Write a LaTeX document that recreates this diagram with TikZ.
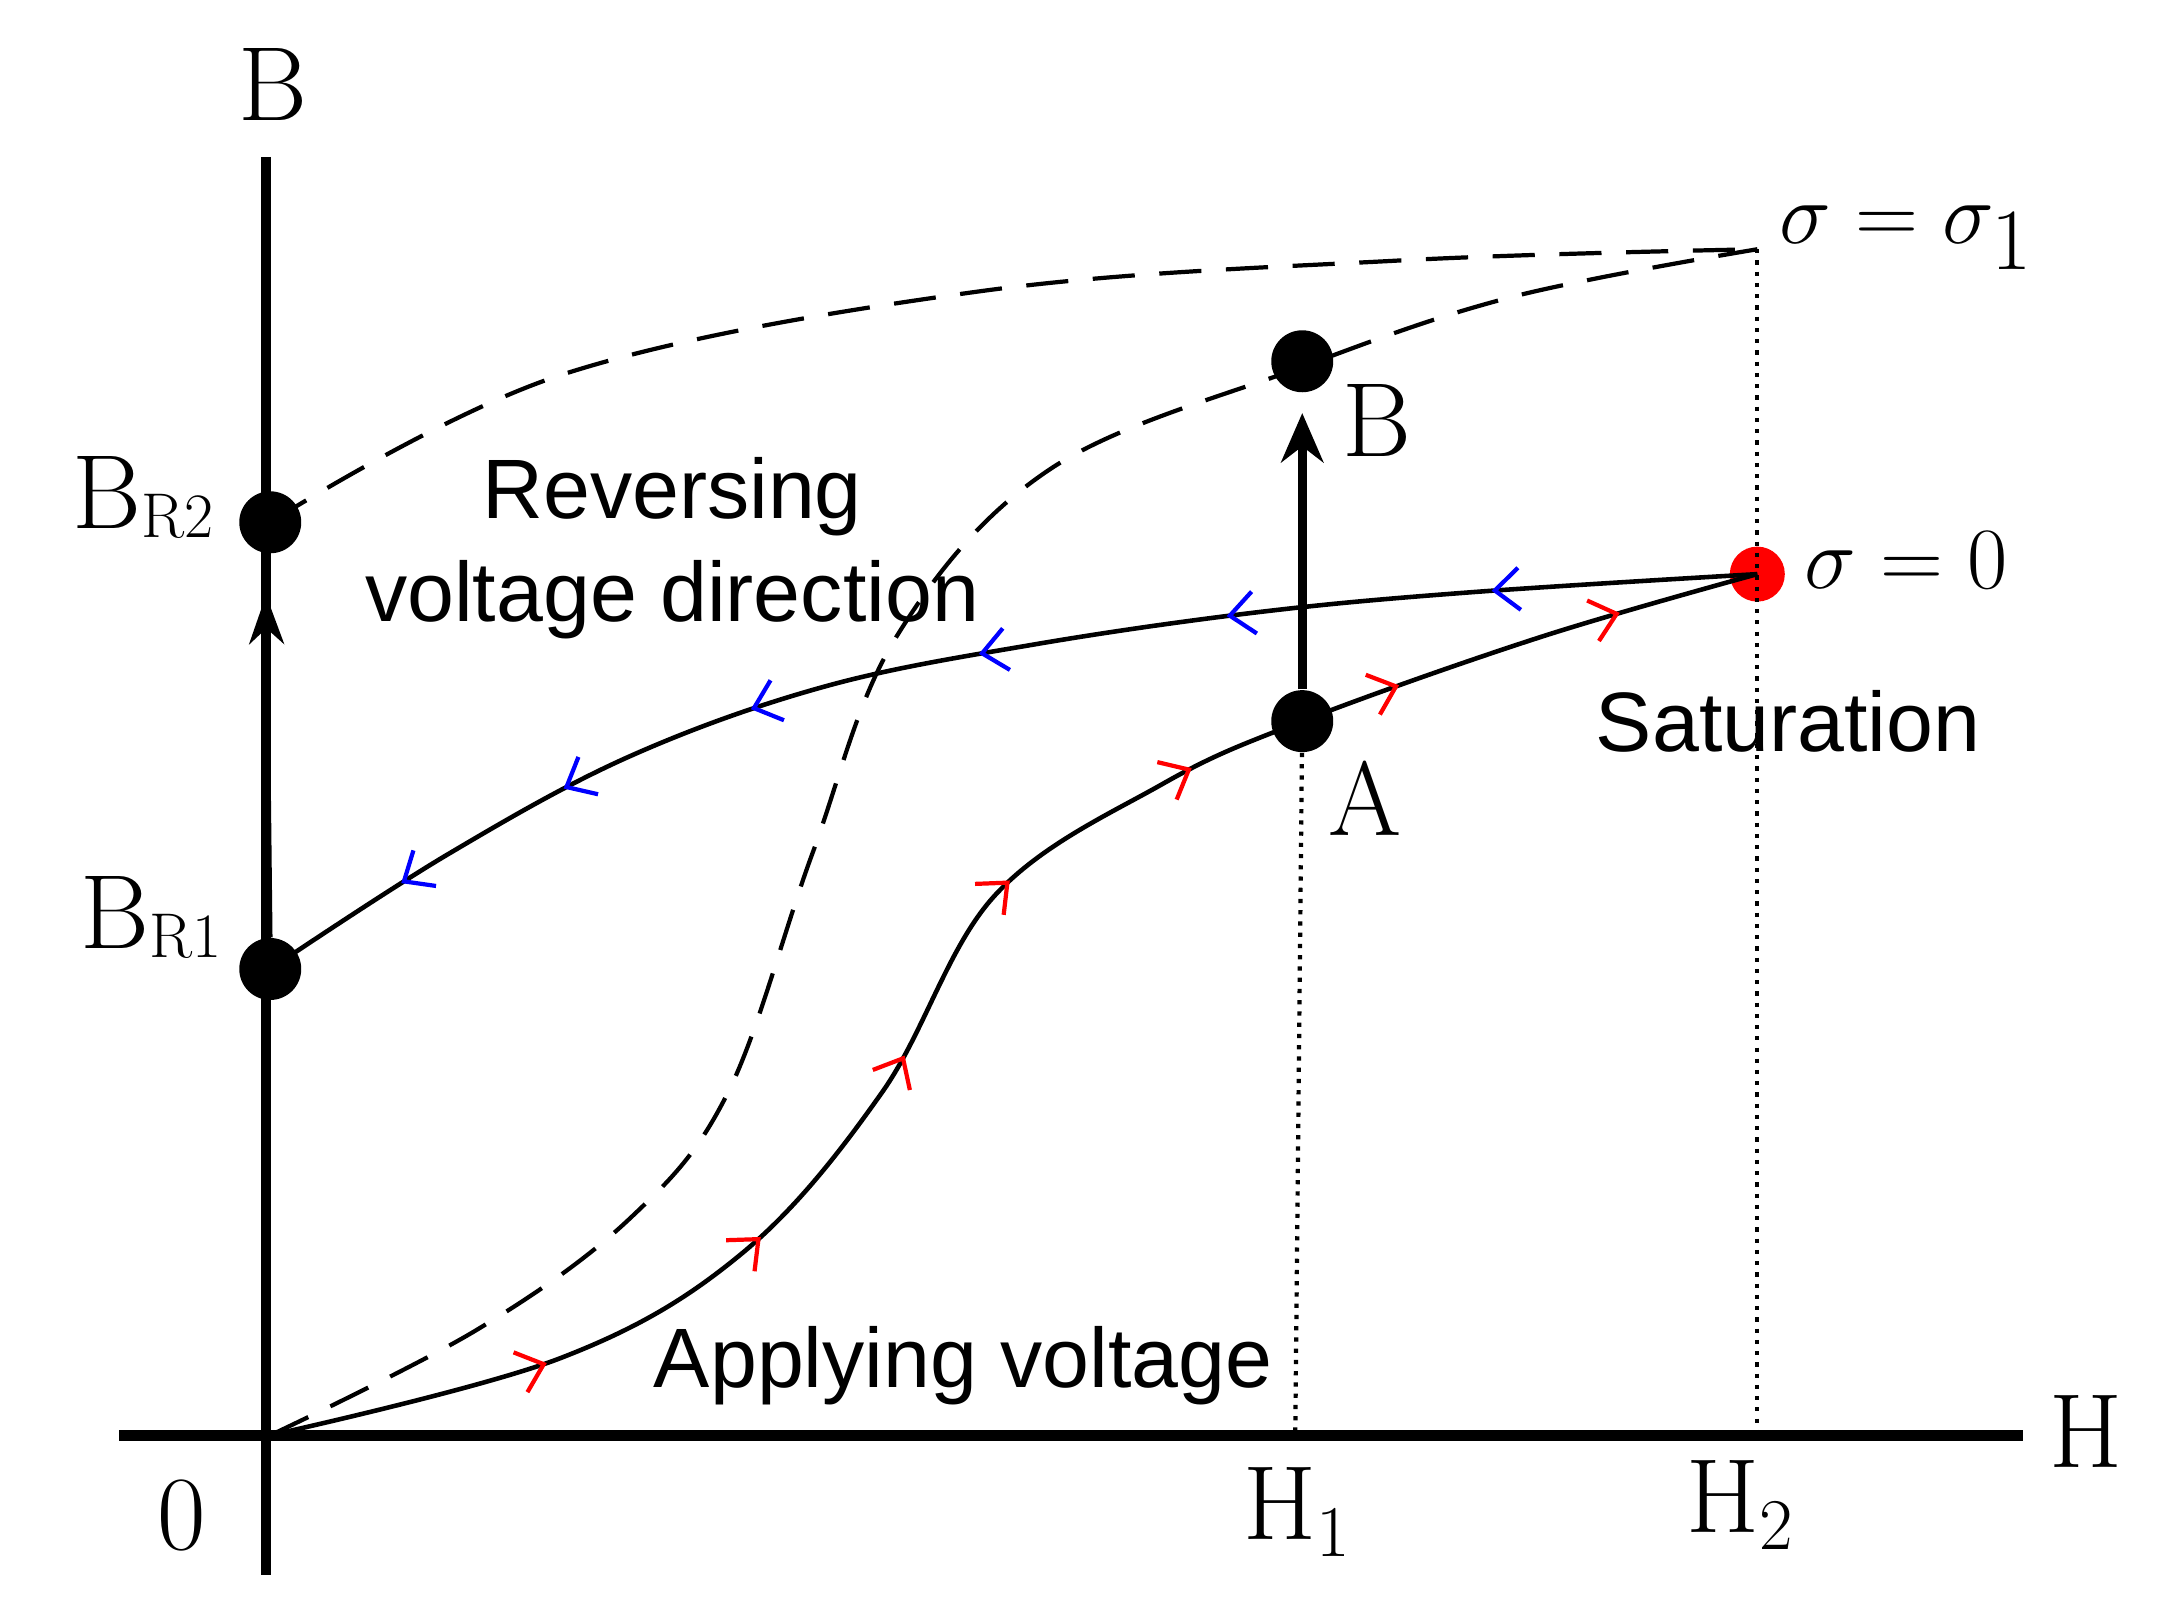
\documentclass[tikz,border=0pt]{standalone}
\usepackage{fontspec}
\newfontfamily\arial{Liberation Sans}
\usetikzlibrary{decorations.markings,arrows.meta}
\begin{document}
\begin{tikzpicture}[x=0.014cm,y=-0.014cm,
  ser/.style={font=\fontsize{30}{32}\selectfont},
  sig/.style={font=\fontsize{36}{38}\selectfont},
  sans/.style={font=\arial\fontsize{24}{28}\selectfont},
  dotpt/.style={circle,fill=black,inner sep=0pt,minimum size=0.62cm},
  redarr/.style={postaction={decorate},decoration={markings,
    mark=at position 0.16 with {\arrow[red,line width=1.2pt]{Straight Barb[length=7pt,width=12pt]}},
    mark=at position 0.3 with {\arrow[red,line width=1.2pt]{Straight Barb[length=7pt,width=12pt]}},
    mark=at position 0.43 with {\arrow[red,line width=1.2pt]{Straight Barb[length=7pt,width=12pt]}},
    mark=at position 0.545 with {\arrow[red,line width=1.2pt]{Straight Barb[length=7pt,width=12pt]}},
    mark=at position 0.665 with {\arrow[red,line width=1.2pt]{Straight Barb[length=7pt,width=12pt]}},
    mark=at position 0.79 with {\arrow[red,line width=1.2pt]{Straight Barb[length=7pt,width=12pt]}},
    mark=at position 0.92 with {\arrow[red,line width=1.2pt]{Straight Barb[length=7pt,width=12pt]}}}},
  bluearr/.style={postaction={decorate},decoration={markings,
    mark=at position 0.17 with {\arrow[blue,line width=1.2pt]{Straight Barb[length=7pt,width=12pt]}},
    mark=at position 0.34 with {\arrow[blue,line width=1.2pt]{Straight Barb[length=7pt,width=12pt]}},
    mark=at position 0.5 with {\arrow[blue,line width=1.2pt]{Straight Barb[length=7pt,width=12pt]}},
    mark=at position 0.65 with {\arrow[blue,line width=1.2pt]{Straight Barb[length=7pt,width=12pt]}},
    mark=at position 0.78 with {\arrow[blue,line width=1.2pt]{Straight Barb[length=7pt,width=12pt]}},
    mark=at position 0.9 with {\arrow[blue,line width=1.2pt]{Straight Barb[length=7pt,width=12pt]}}}}]
\useasboundingbox (0,0) rectangle (1559,1144);
% axes
\draw[line width=3pt] (190,112) -- (190,1125);
\draw[line width=3pt] (85,1025) -- (1445,1025);
\node[ser] (lB) at (195,60) {B};
\node[ser] (lH) at (1490,1022) {H};
\node[ser] (l0) at (130,1082) {0};
\node[ser] (lH1) at (927,1080) {H$_1$};
\node[ser] (lH2) at (1243,1075) {H$_2$};
% coordinates
\coordinate (O) at (193,1025);
\node[dotpt] (BR2) at (193,373) {};
\node[dotpt] (BR1) at (193,692) {};
\node[dotpt] (A) at (930,515) {};
\node[dotpt] (Bp) at (930,258) {};
\node[circle,fill=red,inner sep=0pt,minimum size=0.55cm] (S) at (1255,410) {};
\coordinate (S1) at (1255,178);
\coordinate (H1) at (925,1025);
\coordinate (H2) at (1255,1025);
% dotted
\draw[line width=1.2pt,dotted] (S1) -- (H2);
\draw[line width=1.2pt,dotted] (A) -- (H1);
% dashed curves
\draw[line width=1.2pt,dash pattern=on 12pt off 7pt] plot[smooth,tension=0.6] coordinates {(BR2) (400,268) (700,208) (1000,186) (1255,178)};
\draw[line width=1.2pt,dash pattern=on 12pt off 7pt] plot[smooth,tension=0.6] coordinates {(O) (340,950) (450,870) (520,780) (580,610) (640,455) (750,335) (930,262) (1080,212) (1255,178)};
% solid curves
\draw[line width=1.3pt,redarr] plot[smooth,tension=0.6] coordinates {(O) (400,970) (530,895) (630,780) (710,640) (830,560) (930,515) (1100,455) (1255,410)};
\draw[line width=1.3pt,bluearr] plot[smooth,tension=0.6] coordinates {(S) (1050,423) (900,437) (740,460) (590,490) (450,540) (320,610) (BR1)};
% vertical arrows
\draw[line width=2.5pt,-{Stealth[length=14pt,width=12pt]}] (A) -- (930,295);
\draw[line width=1.5pt,-{Stealth[length=14pt,width=10pt]}] (BR1) -- (190,425);
% labels
\node[ser] (lBR2) at (102,355) {B\raisebox{-0.2ex}{\fontsize{18}{20}\selectfont R2}};
\node[ser] (lBR1) at (108,655) {B\raisebox{-0.2ex}{\fontsize{18}{20}\selectfont R1}};
\node[ser] (lA) at (975,570) {A};
\node[ser] (lBp) at (983,300) {B};
\node[sig,anchor=west] (ls1) at (1262,170) {$\sigma=\sigma_1$};
\node[sig,anchor=west] (ls0) at (1280,400) {$\sigma=0$};
\node[sans] (t1) at (480,355) {Reversing};
\node[sans] (t2) at (480,428) {voltage direction};
\node[sans] (t3) at (1277,515) {Saturation};
\node[sans] (t4) at (688,975) {Applying voltage};
\end{tikzpicture}
\end{document}
